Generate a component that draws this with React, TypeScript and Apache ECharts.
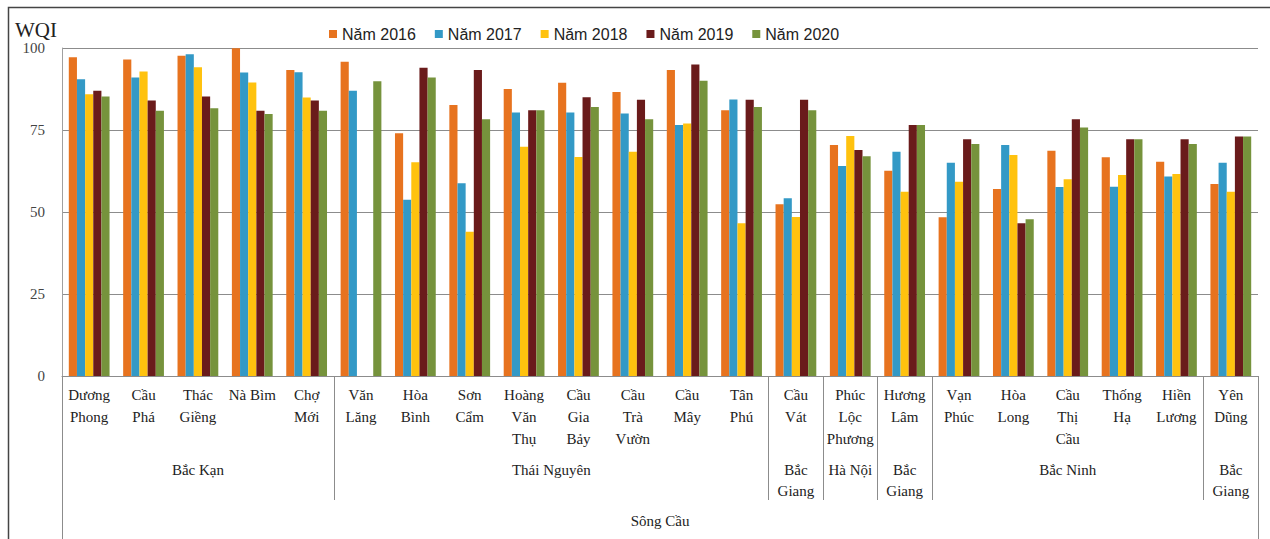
import React, { useEffect, useRef } from "react";
import * as echarts from "echarts";

const categories = [
  "Dương\nPhong", "Cầu\nPhá", "Thác\nGiềng", "Nà Bìm", "Chợ\nMới",
  "Văn\nLăng", "Hòa\nBình", "Sơn\nCẩm", "Hoàng\nVăn\nThụ", "Cầu\nGia\nBảy",
  "Cầu\nTrà\nVườn", "Cầu\nMây", "Tân\nPhú", "Cầu\nVát", "Phúc\nLộc\nPhương",
  "Hương\nLâm", "Vạn\nPhúc", "Hòa\nLong", "Cầu\nThị\nCầu", "Thống\nHạ",
  "Hiền\nLương", "Yên\nDũng",
];

const seriesNames = ["Năm 2016", "Năm 2017", "Năm 2018", "Năm 2019", "Năm 2020"];

const s2016 = [97.2, 96.5, 97.6, 99.9, 93.3, 95.8, 74, 82.6, 87.5, 89.4, 86.6, 93.3, 81, 52.4, 70.4, 62.6, 48.4, 57, 68.7, 66.7, 65.3, 58.5];
const s2017 = [90.5, 91, 98.1, 92.5, 92.6, 87, 53.7, 58.8, 80.3, 80.3, 80, 76.5, 84.3, 54.2, 64, 68.4, 65, 70.4, 57.6, 57.7, 60.8, 65];
const s2018 = [85.9, 92.8, 94.1, 89.5, 84.9, null, 65.2, 44, 69.9, 66.8, 68.4, 77, 46.6, 48.5, 73.2, 56.2, 59.2, 67.4, 60, 61.3, 61.6, 56.2];
const s2019 = [87, 84, 85.2, 80.9, 84, null, 94, 93.3, 81, 85, 84.2, 95, 84.2, 84.2, 68.9, 76.5, 72.2, 46.6, 78.3, 72.2, 72.2, 73];
const s2020 = [85.2, 80.9, 81.6, 79.9, 80.9, 89.9, 91, 78.3, 81, 82, 78.3, 90, 82, 81, 67, 76.5, 70.7, 47.8, 75.8, 72.2, 70.7, 73];

const provinceNames = ["Bắc Kạn", "Thái Nguyên", "Bắc\nGiang", "Hà Nội", "Bắc\nGiang", "Bắc Ninh", "Bắc\nGiang"];
const provinceCenters = [2.5, 9, 13.5, 14.5, 15.5, 18.5, 21.5];
const provinceBounds = [5, 13, 14, 15, 16, 21];
const riverNames = ["Sông Cầu"];
const riverCenters = [11];
const riverBounds = [0, 22];

const yTicks = { min: 0, max: 100, interval: 25 };

const colors = ["#E7731F", "#3399C6", "#FFC20E", "#6A1B1B", "#76933C"];

export default function App() {
  const ref = useRef<HTMLDivElement>(null);
  useEffect(() => {
    if (!ref.current) return;
    const chart = echarts.init(ref.current, null, { renderer: "svg" });
    const serif = "Liberation Serif";
    const dataSets = [s2016, s2017, s2018, s2019, s2020];
    const option: any = {
      animation: false,
      backgroundColor: "#ffffff",
      title: {
        text: "WQI",
        left: 10,
        top: 14,
        textStyle: { fontFamily: serif, fontSize: 21, fontWeight: "normal", color: "#222" },
      },
      legend: {
        data: seriesNames,
        left: 324,
        top: 21,
        itemWidth: 8,
        itemHeight: 8,
        itemGap: 19,
        itemTextGap: 4,
        icon: "rect",
        textStyle: { fontFamily: "Liberation Sans", fontSize: 16, color: "#222" },
      },
      graphic: [
        {
          type: "rect",
          shape: { x: 8.5, y: 7.5, width: 1300, height: 600 },
          style: { fill: "none", stroke: "#444", lineWidth: 1.5 },
          silent: true,
        },
      ],
      grid: { left: 62, right: 12, top: 48, bottom: 163 },
      xAxis: [
        {
          type: "category",
          data: categories,
          position: "bottom",
          axisLine: { show: true, lineStyle: { color: "#8c8c8c" } },
          axisTick: { show: false },
          axisLabel: {
            interval: 0,
            margin: 8,
            fontFamily: serif,
            fontSize: 15,
            lineHeight: 22,
            color: "#222",
          },
        },
        {
          type: "value",
          min: 0,
          max: 22,
          position: "bottom",
          axisLine: { show: false },
          splitLine: { show: false },
          axisTick: {
            show: true,
            customValues: provinceBounds,
            length: 124,
            lineStyle: { color: "#8c8c8c" },
          },
          axisLabel: {
            customValues: provinceCenters,
            formatter: (v: number) => {
              const i = provinceCenters.indexOf(v);
              return i >= 0 ? provinceNames[i] : "";
            },
            margin: 83,
            fontFamily: serif,
            fontSize: 15,
            lineHeight: 21,
            color: "#222",
          },
        },
        {
          type: "value",
          min: 0,
          max: 22,
          position: "bottom",
          axisLine: { show: false },
          splitLine: { show: false },
          axisTick: {
            show: true,
            customValues: riverBounds,
            length: 163,
            lineStyle: { color: "#8c8c8c" },
          },
          axisLabel: {
            customValues: riverCenters,
            formatter: (v: number) => {
              const i = riverCenters.indexOf(v);
              return i >= 0 ? riverNames[i] : "";
            },
            margin: 134,
            fontFamily: serif,
            fontSize: 15,
            lineHeight: 22,
            color: "#222",
          },
        },
      ],
      yAxis: {
        type: "value",
        min: yTicks.min,
        max: yTicks.max,
        interval: yTicks.interval,
        axisLine: { show: true, lineStyle: { color: "#a0a0a0" } },
        axisTick: { show: false },
        splitLine: { lineStyle: { color: "#8c8c8c", width: 1 } },
        axisLabel: { margin: 17, fontFamily: serif, fontSize: 15, color: "#444" },
      },
      series: seriesNames.map((name, i) => ({
        name,
        type: "bar",
        xAxisIndex: 0,
        data: dataSets[i],
        itemStyle: { color: colors[i] },
        barGap: "0%",
        barCategoryGap: "25%",
      })),
    };
    chart.setOption(option);
    return () => chart.dispose();
  }, []);
  return (
    <div
      ref={ref}
      style={{ position: "absolute", left: 0, top: 0, width: 1270, height: 539 }}
    />
  );
}
